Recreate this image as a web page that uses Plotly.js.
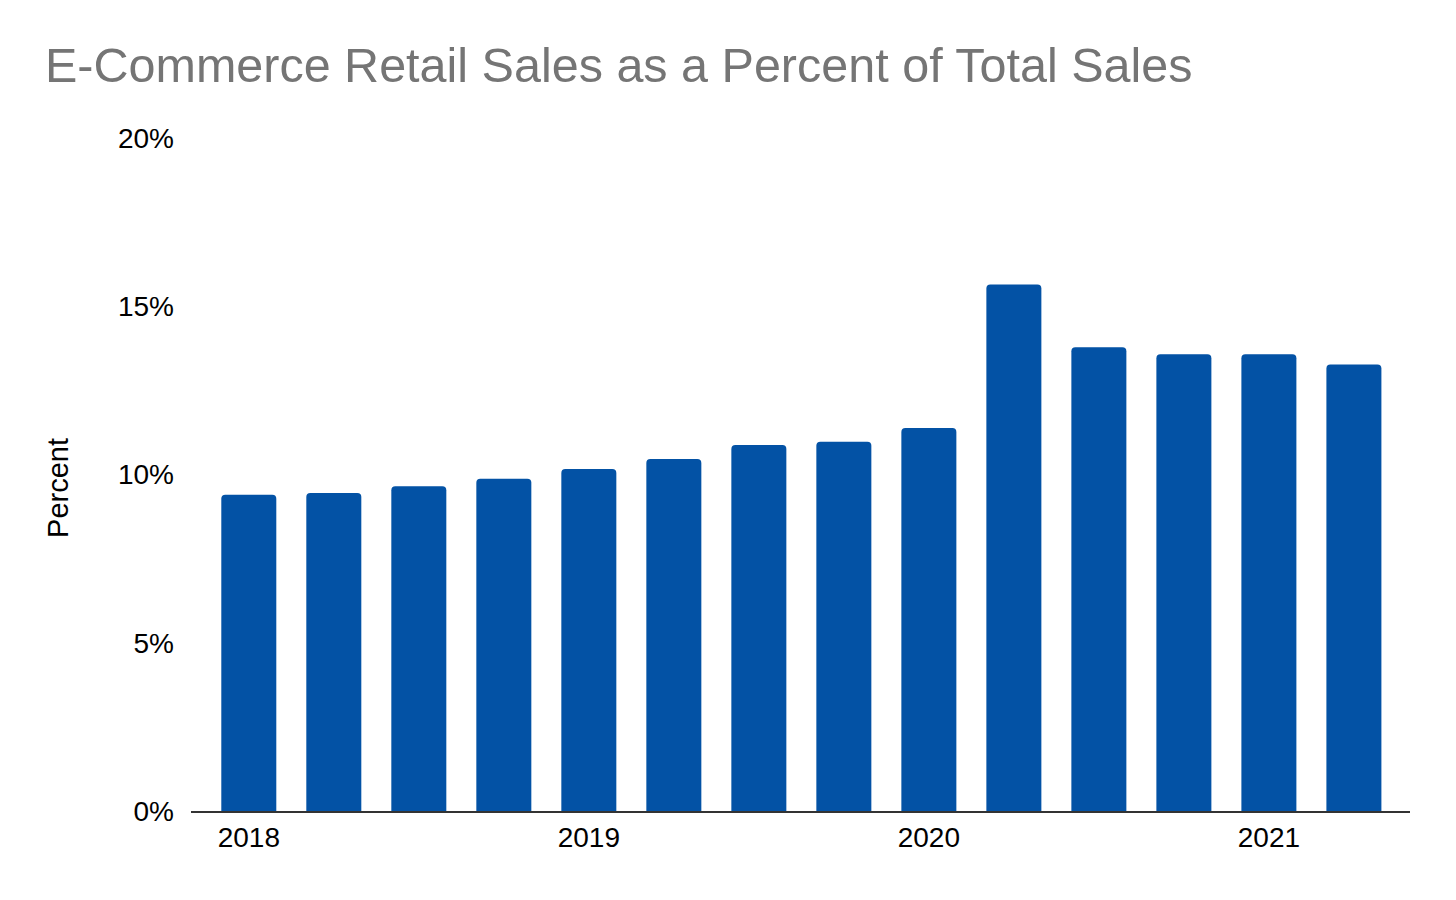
<!DOCTYPE html>
<html>
<head>
<meta charset="utf-8">
<script src="https://cdn.plot.ly/plotly-3.0.1.min.js"></script>
<style>
  html, body { margin: 0; padding: 0; background: #fff; }
  #chart { width: 1456px; height: 900px; }
</style>
</head>
<body>
<div id="chart"></div>
<script>
// quarters 2018 Q1 .. 2021 Q2
var quarters = ['2018-Q1', '2018-Q2', '2018-Q3', '2018-Q4',
                '2019-Q1', '2019-Q2', '2019-Q3', '2019-Q4',
                '2020-Q1', '2020-Q2', '2020-Q3', '2020-Q4',
                '2021-Q1', '2021-Q2'];
// e-commerce share of total retail sales, percent
var percentValues = [9.4, 9.45, 9.65, 9.87, 10.16, 10.46, 10.88, 10.97,
                     11.38, 15.65, 13.78, 13.57, 13.57, 13.27];
// year ticks sit on the first quarter of each year
var yearTickVals = ['2018-Q1', '2019-Q1', '2020-Q1', '2021-Q1'];
var yearTickText = ['2018', '2019', '2020', '2021'];
var yTickVals = [0, 5, 10, 15, 20];
var yTickText = ['0%', '5%', '10%', '15%', '20%'];

var FONT = 'Liberation Sans, Arial, sans-serif';

var trace = {
  type: 'bar',
  x: quarters,
  y: percentValues,
  marker: { color: '#0352a5', cornerradius: 4 },
  hoverinfo: 'x+y'
};

var layout = {
  width: 1456,
  height: 900,
  paper_bgcolor: '#fff',
  plot_bgcolor: '#fff',
  font: { family: FONT, size: 28, color: '#000' },
  margin: { l: 191, r: 46, t: 138, b: 89 },
  bargap: 0.353,
  showlegend: false,
  title: {
    text: 'E-Commerce Retail Sales as a Percent of Total Sales',
    font: { family: FONT, size: 48.5, color: '#757575' },
    x: 0, xref: 'paper', xanchor: 'left',
    y: 1, yref: 'container', yanchor: 'top',
    pad: { l: -146, t: 48 }
  },
  xaxis: {
    type: 'category',
    range: [-0.68, 13.66],
    tickmode: 'array',
    tickvals: yearTickVals,
    ticktext: yearTickText,
    showgrid: false,
    zeroline: false,
    showline: true,
    linecolor: '#333',
    linewidth: 2,
    ticks: '',
    tickfont: { size: 28 }
  },
  yaxis: {
    range: [0, 20],
    tickmode: 'array',
    tickvals: yTickVals,
    ticktext: yTickText,
    showgrid: false,
    zeroline: false,
    showline: false,
    ticks: '',
    ticklabelstandoff: 16,
    tickfont: { size: 28 }
  },
  // y axis title sits a little below the middle of the plot, so it is placed by hand
  annotations: [{
    text: 'Percent',
    textangle: -90,
    xref: 'paper', yref: 'paper',
    x: 0, y: 0.48,
    xanchor: 'center', yanchor: 'middle',
    xshift: -133,
    showarrow: false,
    font: { family: FONT, size: 29, color: '#000' }
  }]
};

Plotly.newPlot('chart', [trace], layout, { displayModeBar: false, staticPlot: true });
</script>
</body>
</html>
